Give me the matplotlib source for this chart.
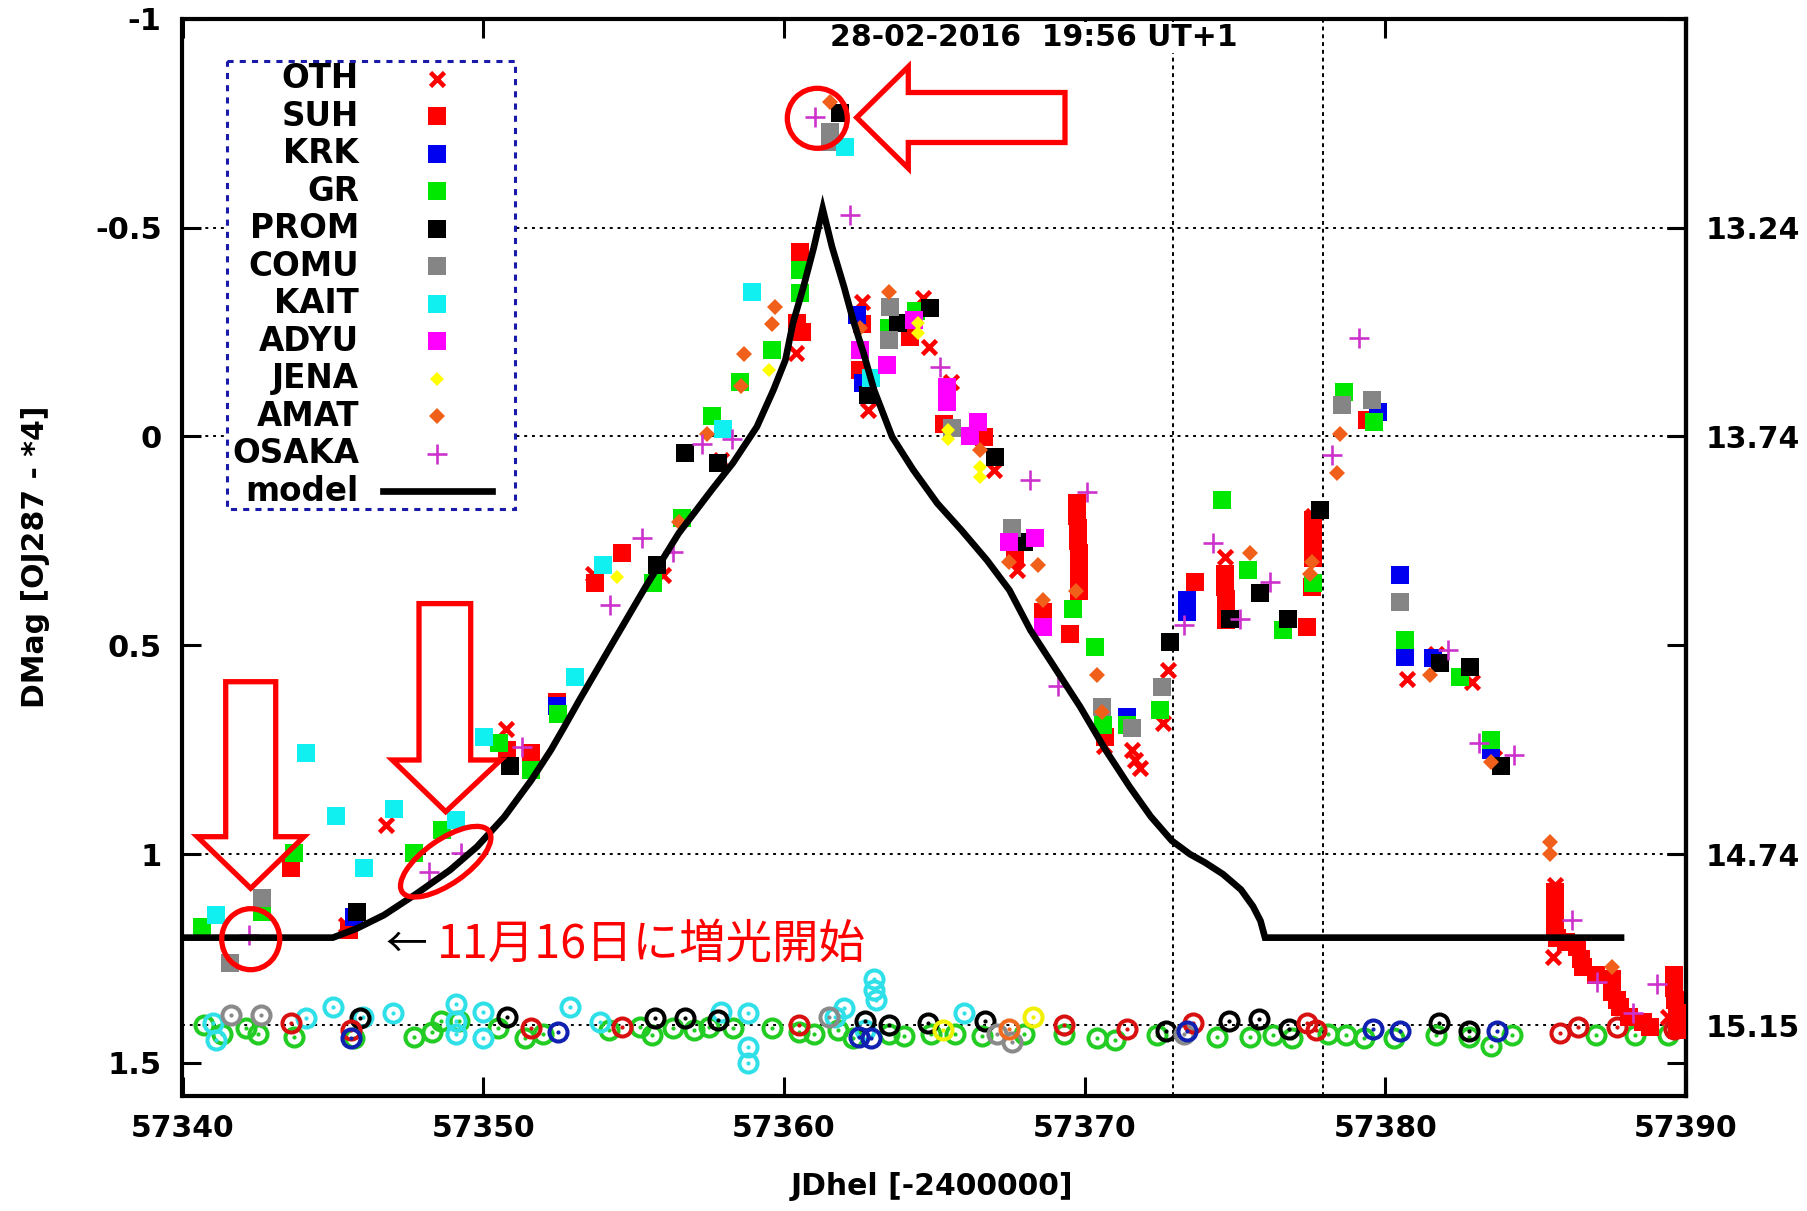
import matplotlib
matplotlib.use("Agg")
import matplotlib.pyplot as plt
from matplotlib.lines import Line2D
from matplotlib.patches import Polygon, Ellipse, Rectangle
from matplotlib.transforms import Affine2D

plt.rcParams['font.family'] = ['DejaVu Sans']

# ---------------------------------------------------------------- data
# photometry, JD - 2400000 vs. differential magnitude (OJ287 - star 4)
oth = [(57345.45, 1.17), (57346.76, 0.93), (57350.75, 0.70), (57353.65, 0.33),
       (57355.99, 0.332), (57357.9, 0.057), (57360.4, -0.20), (57362.59, -0.323),
       (57362.81, -0.063), (57364.64, -0.331), (57364.81, -0.215), (57365.55, -0.13),
       (57367.0, 0.08), (57367.75, 0.32), (57370.65, 0.74), (57371.57, 0.751),
       (57371.68, 0.775), (57371.85, 0.795), (57372.62, 0.687), (57372.79, 0.559),
       (57374.67, 0.288), (57377.6, 0.19), (57380.72, 0.58), (57381.7, 0.52),
       (57382.88, 0.587), (57383.6, 0.77), (57385.65, 1.074), (57385.59, 1.246),
       (57389.4, 1.39)]
suh = [(57343.6, 1.034), (57345.54, 1.182), (57350.8, 0.75), (57351.58, 0.759),
       (57352.47, 0.635), (57353.72, 0.352), (57354.61, 0.28), (57360.54, -0.442),
       (57360.43, -0.271), (57360.6, -0.25), (57362.6, -0.27), (57362.53, -0.159),
       (57364.2, -0.239), (57365.31, -0.031), (57366.64, 0.001), (57367.7, 0.29),
       (57368.63, 0.42), (57369.52, 0.472), (57369.75, 0.16), (57369.75, 0.19),
       (57369.78, 0.22), (57369.78, 0.25), (57369.8, 0.28), (57369.8, 0.31),
       (57369.82, 0.34), (57369.82, 0.37), (57370.68, 0.72), (57373.68, 0.348),
       (57374.67, 0.33), (57374.67, 0.36), (57374.7, 0.39), (57374.7, 0.42),
       (57374.7, 0.44), (57377.39, 0.456), (57377.6, 0.20), (57377.6, 0.23),
       (57377.6, 0.26), (57377.58, 0.29), (57377.56, 0.36), (57379.4, -0.04),
       (57385.65, 1.09), (57385.65, 1.12), (57385.65, 1.15), (57385.65, 1.18),
       (57385.7, 1.20), (57386.0, 1.21), (57386.37, 1.222), (57386.5, 1.25),
       (57386.59, 1.27), (57387.0, 1.29), (57387.53, 1.30), (57387.53, 1.33),
       (57387.7, 1.35), (57387.81, 1.366), (57388.1, 1.39), (57388.58, 1.402),
       (57388.81, 1.414), (57389.6, 1.29), (57389.6, 1.32), (57389.65, 1.35),
       (57389.7, 1.38), (57389.7, 1.42)]
krk = [(57345.7, 1.15), (57352.47, 0.645), (57362.42, -0.291), (57362.64, -0.127),
       (57371.4, 0.672), (57373.4, 0.392), (57373.4, 0.42), (57379.77, -0.059),
       (57380.49, 0.332), (57380.66, 0.528), (57381.6, 0.53), (57383.5, 0.75)]
gr = [(57340.66, 1.175), (57342.65, 1.138), (57343.71, 0.998), (57347.7, 0.998),
      (57348.64, 0.943), (57350.53, 0.735), (57351.58, 0.799), (57352.5, 0.665),
      (57355.66, 0.352), (57356.6, 0.196), (57357.62, -0.049), (57358.55, -0.13),
      (57359.6, -0.207), (57360.54, -0.398), (57360.54, -0.343), (57363.5, -0.26),
      (57364.4, -0.30), (57369.63, 0.412), (57370.35, 0.504), (57370.6, 0.69),
      (57371.4, 0.69), (57372.51, 0.655), (57374.56, 0.152), (57375.45, 0.32),
      (57376.61, 0.464), (57377.6, 0.35), (57378.61, -0.107), (57379.61, -0.035),
      (57380.66, 0.488), (57382.49, 0.575), (57383.52, 0.728)]
prom = [(57345.81, 1.138), (57350.89, 0.789), (57355.77, 0.308), (57356.71, 0.039),
        (57357.82, 0.064), (57361.87, -0.774), (57362.81, -0.099), (57363.81, -0.271),
        (57364.86, -0.307), (57367.02, 0.049), (57367.97, 0.252), (57372.85, 0.492),
        (57374.84, 0.436), (57375.84, 0.376), (57376.78, 0.436), (57377.83, 0.176),
        (57381.82, 0.543), (57382.82, 0.551), (57383.84, 0.788)]
comu = [(57341.58, 1.26), (57342.65, 1.106), (57361.53, -0.730), (57361.53, -0.706),
        (57363.53, -0.311), (57363.48, -0.231), (57365.6, -0.02), (57367.58, 0.22),
        (57370.57, 0.647), (57371.57, 0.699), (57372.57, 0.599), (57378.56, -0.075),
        (57379.55, -0.087), (57380.49, 0.396)]
kait = [(57341.1, 1.146), (57344.1, 0.759), (57345.1, 0.909), (57346.04, 1.034),
        (57347.03, 0.891), (57349.09, 0.919), (57350.03, 0.719), (57353.05, 0.575),
        (57354.0, 0.308), (57357.99, -0.019), (57358.93, -0.347), (57362.03, -0.694),
        (57362.9, -0.14)]
adyu = [(57362.53, -0.207), (57363.42, -0.171), (57364.31, -0.279), (57365.42, -0.119),
        (57365.42, -0.083), (57366.47, -0.035), (57366.2, 0.0), (57367.47, 0.252),
        (57368.35, 0.244), (57368.63, 0.456)]
jena = [(57354.44, 0.336), (57359.5, -0.16), (57364.47, -0.271), (57364.47, -0.247),
        (57365.47, -0.015), (57365.47, 0.005), (57366.53, 0.072), (57366.53, 0.096)]
amat = [(57356.5, 0.205), (57357.45, -0.006), (57358.56, -0.121), (57358.66, -0.198),
        (57359.6, -0.27), (57359.7, -0.31), (57361.53, -0.801), (57362.53, -0.259),
        (57363.48, -0.347), (57366.53, 0.033), (57367.47, 0.30), (57368.46, 0.308),
        (57368.63, 0.392), (57369.7, 0.37), (57370.4, 0.571), (57370.57, 0.66),
        (57375.5, 0.28), (57377.56, 0.30), (57377.5, 0.33), (57378.5, -0.007),
        (57378.39, 0.088), (57381.49, 0.571), (57383.5, 0.78), (57385.48, 0.970),
        (57385.48, 1.0), (57387.53, 1.27)]
osaka = [(57342.21, 1.194), (57348.2, 1.042), (57349.25, 0.998), (57351.3, 0.743),
         (57354.22, 0.404), (57355.27, 0.244), (57356.32, 0.276), (57357.27, 0.017),
         (57358.27, 0.005), (57361.04, -0.766), (57362.2, -0.530), (57365.2, -0.167),
         (57368.19, 0.104), (57369.1, 0.598), (57370.07, 0.132), (57373.29, 0.452),
         (57374.28, 0.256), (57375.17, 0.436), (57376.17, 0.348), (57378.22, 0.045),
         (57379.11, -0.235), (57382.1, 0.511), (57383.1, 0.733), (57384.27, 0.763),
         (57386.2, 1.158), (57387.04, 1.306), (57388.25, 1.381), (57389.03, 1.31)]

# model light curve
model_jd = [57340.0, 57345.0, 57345.8, 57346.7, 57347.8, 57348.9, 57349.8, 57350.7,
            57351.6, 57352.25, 57352.7, 57353.2, 57354.3, 57355.4, 57356.5, 57357.6,
            57358.3, 57359.1, 57359.65, 57360.05, 57360.3, 57360.65, 57361.0, 57361.29,
            57361.6, 57362.0, 57362.3, 57362.65, 57363.0, 57363.6, 57364.3, 57365.1,
            57365.9, 57366.75, 57367.5, 57368.2, 57369.85, 57370.7, 57371.5, 57372.2,
            57372.9, 57373.5, 57374.0, 57374.6, 57375.2, 57375.6, 57375.85, 57376.0,
            57387.95]
model_mag = [1.2, 1.2, 1.178, 1.146, 1.094, 1.038, 0.982, 0.911,
             0.823, 0.751, 0.695, 0.631, 0.495, 0.36, 0.232, 0.128,
             0.064, -0.023, -0.111, -0.183, -0.271, -0.358, -0.454, -0.545,
             -0.454, -0.358, -0.279, -0.199, -0.111, 0.001, 0.080, 0.160,
             0.224, 0.296, 0.368, 0.464, 0.647, 0.751, 0.839, 0.91,
             0.968, 1.0, 1.02, 1.048, 1.085, 1.125, 1.16, 1.2,
             1.2]

# check-star measurements, grouped by colour
chk_green = [(57340.7, 1.41), (57341.3, 1.43), (57342.1, 1.417), (57342.5, 1.43),
             (57343.7, 1.437), (57345.7, 1.44), (57347.7, 1.437), (57348.3, 1.425),
             (57348.6, 1.40), (57349.2, 1.40), (57350.5, 1.417), (57351.4, 1.441),
             (57352.0, 1.43), (57354.2, 1.421), (57355.2, 1.413), (57355.6, 1.433),
             (57356.3, 1.417), (57357.0, 1.421), (57357.5, 1.413), (57358.3, 1.417),
             (57359.6, 1.417), (57360.5, 1.425), (57361.0, 1.43), (57361.8, 1.42),
             (57362.3, 1.44), (57363.5, 1.43), (57364.0, 1.435), (57364.9, 1.43),
             (57365.7, 1.43), (57366.6, 1.435), (57368.0, 1.43), (57369.3, 1.43),
             (57370.4, 1.44), (57371.0, 1.445), (57372.4, 1.434), (57374.4, 1.439),
             (57375.5, 1.439), (57376.25, 1.434), (57376.9, 1.44), (57378.1, 1.43),
             (57378.7, 1.434), (57379.3, 1.44), (57380.3, 1.44), (57381.7, 1.434),
             (57382.8, 1.439), (57383.5, 1.459), (57384.2, 1.434), (57387.0, 1.434),
             (57388.3, 1.434), (57389.4, 1.434)]
chk_cyan = [(57341.0, 1.405), (57341.1, 1.445), (57344.1, 1.393), (57345.0, 1.366),
            (57346.0, 1.39), (57347.0, 1.381), (57349.1, 1.358), (57349.1, 1.40),
            (57349.1, 1.43), (57350.0, 1.378), (57350.0, 1.44), (57352.9, 1.366),
            (57353.9, 1.402), (57357.9, 1.378), (57358.8, 1.381), (57358.8, 1.461),
            (57358.8, 1.501), (57361.7, 1.39), (57362.0, 1.369), (57363.0, 1.298),
            (57363.0, 1.325), (57363.05, 1.35), (57366.0, 1.38), (57362.7, 1.42)]
chk_black = [(57345.9, 1.393), (57350.8, 1.39), (57355.7, 1.393), (57356.7, 1.393),
             (57357.8, 1.397), (57362.7, 1.40), (57363.5, 1.41), (57364.8, 1.404),
             (57366.7, 1.40), (57372.7, 1.424), (57374.8, 1.40), (57375.8, 1.394),
             (57376.8, 1.419), (57381.8, 1.404), (57382.8, 1.424)]
chk_gray = [(57341.6, 1.386), (57342.6, 1.386), (57361.5, 1.39), (57367.1, 1.43),
            (57367.6, 1.449), (57373.3, 1.43)]
chk_red = [(57343.6, 1.405), (57345.6, 1.421), (57351.6, 1.417), (57354.6, 1.413),
           (57360.5, 1.41), (57369.3, 1.41), (57371.4, 1.419), (57373.6, 1.404),
           (57377.4, 1.404), (57377.7, 1.42), (57385.8, 1.429), (57386.4, 1.414),
           (57387.7, 1.414), (57389.6, 1.419)]
chk_blue = [(57345.6, 1.44), (57352.5, 1.425), (57362.5, 1.439), (57362.9, 1.44),
            (57373.4, 1.424), (57379.6, 1.419), (57380.5, 1.424), (57383.7, 1.424)]
chk_yellow = [(57365.3, 1.42), (57368.3, 1.39)]
chk_orange = [(57367.5, 1.419)]

x_ticks = [57340, 57350, 57360, 57370, 57380, 57390]
x_tick_labels = ['57340', '57350', '57360', '57370', '57380', '57390']
y_ticks = [-1, -0.5, 0, 0.5, 1, 1.5]
y_tick_labels = ['-1', '-0.5', '0', '0.5', '1', '1.5']
y2_ticks = [13.24, 13.74, 14.74, 15.15]
y2_tick_labels = ['13.24', '13.74', '14.74', '15.15']
MAG_ZERO = 13.74            # calibrated magnitude at DMag = 0
date_lines = [57372.95, 57377.92]

# ---------------------------------------------------------------- figure
W, H, DPI = 1808, 1211, 100
fig = plt.figure(figsize=(W / DPI, H / DPI), dpi=DPI)
fig.patch.set_facecolor('white')
AX_L, AX_R, AX_T, AX_B = 182.5, 1686.0, 18.8, 1095.5
ax = fig.add_axes([AX_L / W, 1 - AX_B / H, (AX_R - AX_L) / W, (AX_B - AX_T) / H])
# pixel coordinates measured from the top-left corner of the figure
pix = Affine2D().scale(1 / W, -1 / H).translate(0, 1) + fig.transFigure

ax.set_xlim(57340, 57390)
ax.set_ylim(1.578, -1.0)

FS = 21.5
FS_KEY = 23.5
ax.set_xticks(x_ticks)
ax.set_xticklabels(x_tick_labels, fontsize=FS, fontweight='bold')
ax.set_yticks(y_ticks)
ax.set_yticklabels(y_tick_labels, fontsize=22, fontweight='bold')
ax.tick_params(direction='in', length=14, width=2.2, top=True, right=True)
ax.tick_params(axis='x', pad=13)
ax.tick_params(axis='y', pad=15)
for sp in ax.spines.values():
    sp.set_linewidth(3)

sec = ax.secondary_yaxis('right', functions=(lambda m: m + MAG_ZERO,
                                             lambda v: v - MAG_ZERO))
sec.set_yticks(y2_ticks)
sec.set_yticklabels(y2_tick_labels, fontsize=FS, fontweight='bold')
sec.tick_params(direction='in', length=14, width=2.2, pad=14)
sec.spines['right'].set_linewidth(3)

# grid at the calibrated-magnitude ticks, plus two date markers
for v in y2_ticks:
    ax.axhline(v - MAG_ZERO, color='black', lw=1.4, ls=(0, (1.5, 2.5)), zorder=1)
for d in date_lines:
    ax.axvline(d, color='black', lw=1.4, ls=(0, (2, 2)), zorder=1)

# check-star points
chk_sets = [(chk_green, '#22cc22'), (chk_cyan, '#30e0e8'), (chk_black, '#000000'),
            (chk_gray, '#8a8a8a'), (chk_red, '#d81010'), (chk_blue, '#1020b0'),
            (chk_yellow, '#f0f000'), (chk_orange, '#f06a20')]
for pts, col in chk_sets:
    jd = [p[0] for p in pts]
    mg = [p[1] for p in pts]
    ax.plot(jd, mg, ls='none', marker='o', ms=13, mfc='none', mec=col, mew=2.9, zorder=3)
    ax.plot(jd, mg, ls='none', marker='.', ms=4, color=col, zorder=3)

styles = {
    'OTH': dict(marker='x', color='#ff0000', ms=10.5, mew=3.3),
    'SUH': dict(marker='s', color='#ff0000', ms=13.5, mew=0),
    'KRK': dict(marker='s', color='#0000f0', ms=13.5, mew=0),
    'GR': dict(marker='s', color='#00e800', ms=13.5, mew=0),
    'PROM': dict(marker='s', color='#000000', ms=13.5, mew=0),
    'COMU': dict(marker='s', color='#858585', ms=13.5, mew=0),
    'KAIT': dict(marker='s', color='#10f0f0', ms=13.5, mew=0),
    'ADYU': dict(marker='s', color='#ff00ff', ms=13.5, mew=0),
    'JENA': dict(marker='D', color='#ffff00', ms=7, mew=0),
    'AMAT': dict(marker='D', color='#f0601a', ms=8.5, mew=0),
    'OSAKA': dict(marker='+', color='#cc33cc', ms=15, mew=1.9),
}
series = [('OTH', oth), ('SUH', suh), ('KRK', krk), ('GR', gr), ('PROM', prom),
          ('COMU', comu), ('KAIT', kait), ('ADYU', adyu), ('JENA', jena),
          ('AMAT', amat), ('OSAKA', osaka)]
for i, (name, pts) in enumerate(series):
    ax.plot([p[0] for p in pts], [p[1] for p in pts], ls='none',
            zorder=4 + i * 0.01, **styles[name])

ax.plot(model_jd, model_mag, color='black', lw=4.8, zorder=6,
        solid_joinstyle='miter', solid_capstyle='butt')

# ---------------------------------------------------------------- labels
ax.set_xlabel('JDhel [-2400000]', fontsize=FS, fontweight='bold')
ax.xaxis.set_label_coords(932, 1172, transform=pix)
ax.set_ylabel('DMag [OJ287 - *4]', fontsize=FS, fontweight='bold')
ax.yaxis.set_label_coords(50, 557, transform=pix)

ax.text(1034, 37.5, '28-02-2016  19:56 UT+1', transform=pix, ha='center', va='center',
        fontsize=FS, fontweight='bold', zorder=2.4,
        bbox=dict(facecolor='white', edgecolor='none', pad=1))

# ---------------------------------------------------------------- key
ax.add_patch(Rectangle((227, 61), 288, 448, transform=pix, facecolor='white',
                       edgecolor='#1a1aaa', lw=2.2, ls=(0, (2, 2)), zorder=20,
                       clip_on=False))
row0, drow = 78.6, 37.5
for i, (name, _) in enumerate(series):
    y = row0 + i * drow
    ax.text(359, y, name, transform=pix, ha='right', va='center', fontsize=FS_KEY,
            fontweight='bold', zorder=21)
    ax.add_line(Line2D([437], [y], transform=pix, ls='none', zorder=21,
                       clip_on=False, **styles[name]))
y = row0 + len(series) * drow
ax.text(359, y, 'model', transform=pix, ha='right', va='center', fontsize=FS_KEY,
        fontweight='bold', zorder=21)
ax.add_line(Line2D([383, 492], [y, y], transform=pix, color='black', lw=4.8,
                   zorder=21, clip_on=False))

# ---------------------------------------------------------------- annotations
RED = '#ff0000'
arrow_down_1 = [(225.7, 681.7), (275.7, 681.7), (275.7, 836.7), (304, 836.7),
                (250.7, 888.3), (197.3, 836.7), (225.7, 836.7)]
arrow_down_2 = [(419, 603.6), (470.7, 603.6), (470.7, 760), (500.7, 760),
                (445.7, 811.7), (392.3, 760), (419, 760)]
arrow_left = [(856.7, 117.5), (908.3, 66.7), (908.3, 92.5), (1065, 92.5),
              (1065, 142.5), (908.3, 142.5), (908.3, 168.3)]
for poly in (arrow_down_1, arrow_down_2, arrow_left):
    ax.add_patch(Polygon(poly, closed=True, transform=pix, fill=False,
                         edgecolor=RED, lw=3.8, joinstyle='miter', zorder=22,
                         clip_on=False))
for (cx, cy), w, h, ang in [((817.3, 118.3), 60, 60, 0),
                            ((250.7, 939.2), 58, 61, 0),
                            ((445.7, 861.7), 106, 44, -35)]:
    ax.add_patch(Ellipse((cx, cy), w, h, angle=ang, transform=pix, fill=False,
                         edgecolor=RED, lw=3.8, zorder=22, clip_on=False))

cjk = ['Noto Sans CJK JP', 'DejaVu Sans']
ax.text(386, 957, '←', transform=pix, ha='left', va='baseline', fontsize=30,
        family=cjk, color='black', zorder=22)
ax.text(437, 958, '11月16日に増光開始', transform=pix, ha='left', va='baseline',
        fontsize=33.5, family=cjk, color=RED, zorder=22)

fig.savefig('out.png', dpi=DPI, facecolor='white')
